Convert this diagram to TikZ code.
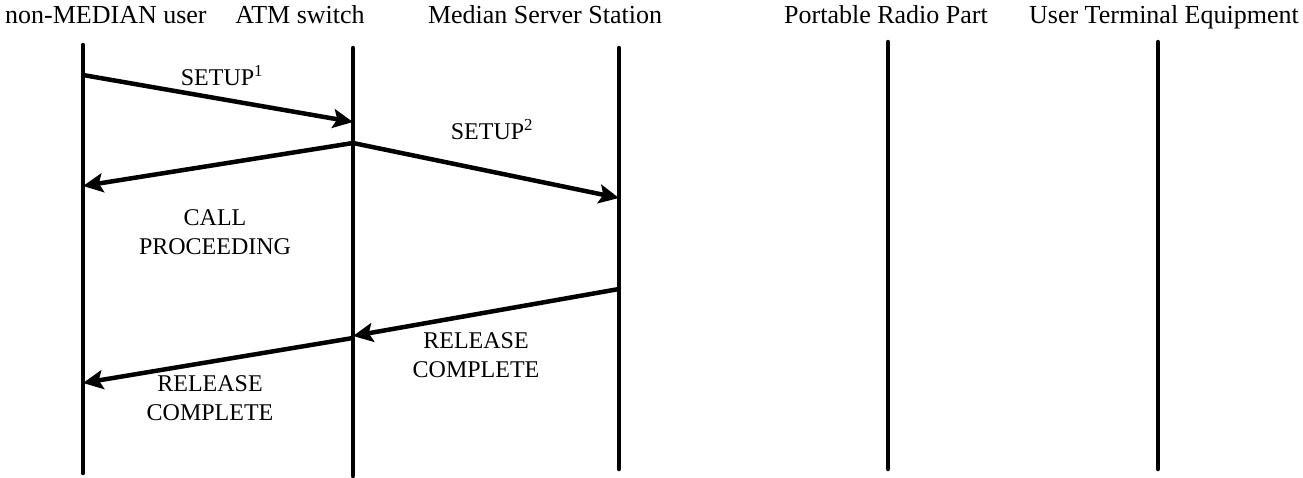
\documentclass[tikz,border=0pt]{standalone}
\usepackage{fontspec}
\setmainfont{Liberation Serif}
\usetikzlibrary{arrows.meta}
\begin{document}
\begin{tikzpicture}[x=1pt,y=-1pt,
  lifeline/.style={line width=4.5pt,line cap=round},
  msg/.style={line width=4.5pt,-{Stealth[length=20pt,width=19pt,inset=4pt]}},
  head/.style={inner sep=0pt,font=\fontsize{26}{31}\selectfont},
  lbl/.style={inner sep=0pt,align=center,font=\fontsize{24}{29}\selectfont}]
\useasboundingbox (0,0) rectangle (1303,477);

% column headings, all on one baseline
\node[head,anchor=base west] (hA) at (5,23) {non-MEDIAN user};
\node[head,anchor=base] (hB) at (300,23) {ATM switch};
\node[head,anchor=base] (hC) at (545,23) {Median Server Station};
\node[head,anchor=base east] (hD) at (988,23) {Portable Radio Part};
\node[head,anchor=base east] (hE) at (1299,23) {User Terminal Equipment};

% lifelines
\coordinate (aT) at (83,45);   \coordinate (aB) at (83,473);
\coordinate (bT) at (353,48);  \coordinate (bB) at (353,476);
\coordinate (cT) at (619,48);  \coordinate (cB) at (619,469);
\coordinate (dT) at (888,42);  \coordinate (dB) at (888,469);
\coordinate (eT) at (1158,42); \coordinate (eB) at (1158,469);
\foreach \t/\b in {aT/aB,bT/bB,cT/cB,dT/dB,eT/eB}
  \draw[lifeline] (\t) -- (\b);

% message end points
\coordinate (s1a) at (83,75);   \coordinate (s1b) at (353,122);
\coordinate (cpa) at (353,143); \coordinate (cpb) at (83,186);
\coordinate (s2b) at (619,198);
\coordinate (r1a) at (619,289); \coordinate (r1b) at (353,336);
\coordinate (r2a) at (353,338); \coordinate (r2b) at (83,383);

\draw[msg] (s1a) -- (s1b);
\draw[msg] (cpa) -- (cpb);
\draw[msg] (cpa) -- (s2b);
\draw[msg] (r1a) -- (r1b);
\draw[msg] (r2a) -- (r2b);

% message labels
\node[lbl] (l1) at (222,76) {SETUP\textsuperscript{1}};
\node[lbl] (l2) at (492,130) {SETUP\textsuperscript{2}};
\node[lbl] (l3) at (215,232) {CALL\\PROCEEDING};
\node[lbl] (l4) at (476,355) {RELEASE\\COMPLETE};
\node[lbl] (l5) at (210,398) {RELEASE\\COMPLETE};
\end{tikzpicture}
\end{document}
